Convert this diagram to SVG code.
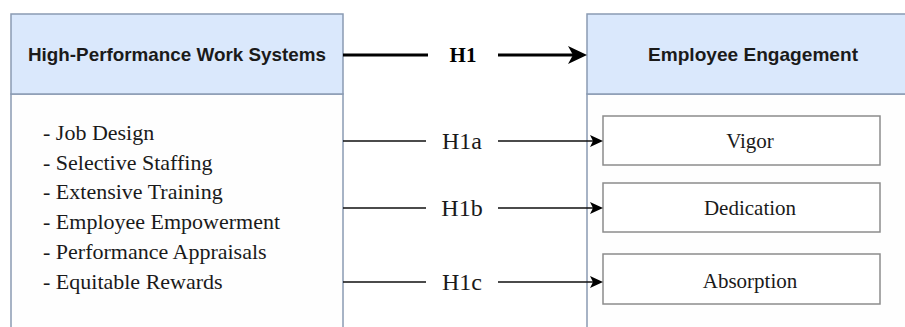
<svg xmlns="http://www.w3.org/2000/svg" width="905" height="327" viewBox="0 0 905 327">
<style>
.hdr{fill:#dae8fc;stroke:#8a9bb3;stroke-width:1.5}
.body{fill:#fefefe;stroke:#8a9bb3;stroke-width:1.5}
.sub{fill:#ffffff;stroke:#8c8c8c;stroke-width:1.5}
.ht{font-family:"Liberation Sans",Arial,sans-serif;font-weight:bold;font-size:19px;fill:#1a1a1a}
.st{font-family:"Liberation Serif","Times New Roman",serif;font-size:22px;fill:#1a1a1a}
.hl{font-family:"Liberation Serif","Times New Roman",serif;font-size:24px;fill:#1a1a1a}
.lt{font-family:"Liberation Serif","Times New Roman",serif;font-size:21px;fill:#1a1a1a}
.thick{stroke:#000;stroke-width:3;fill:none}
.thin{stroke:#111;stroke-width:1.5;fill:none}
.ah{fill:#000}
</style>
<rect width="905" height="327" fill="#ffffff"/>
<g id="hpws">
<rect class="body" x="11" y="94" width="332" height="240"/>
<rect class="hdr" x="11" y="14" width="332" height="80"/>
<text class="ht" x="177" y="61" text-anchor="middle" textLength="298" lengthAdjust="spacingAndGlyphs">High-Performance Work Systems</text>
<text class="st" x="43" y="140">- Job Design</text>
<text class="st" x="43" y="170">- Selective Staffing</text>
<text class="st" x="43" y="199">- Extensive Training</text>
<text class="st" x="43" y="229">- Employee Empowerment</text>
<text class="st" x="43" y="259">- Performance Appraisals</text>
<text class="st" x="43" y="289">- Equitable Rewards</text>
</g>
<g id="ee">
<rect class="body" x="587" y="94" width="330" height="240"/>
<rect class="hdr" x="587" y="14" width="330" height="80"/>
<text class="ht" x="753" y="61" text-anchor="middle" textLength="210" lengthAdjust="spacingAndGlyphs">Employee Engagement</text>
</g>
<g id="vigor">
<rect class="sub" x="603" y="116" width="277" height="49"/>
<text class="lt" x="750" y="148" text-anchor="middle">Vigor</text>
</g>
<g id="dedication">
<rect class="sub" x="603" y="183" width="277" height="49"/>
<text class="lt" x="750" y="215" text-anchor="middle">Dedication</text>
</g>
<g id="absorption">
<rect class="sub" x="603" y="254" width="277" height="50"/>
<text class="lt" x="750" y="288" text-anchor="middle">Absorption</text>
</g>
<g id="connectors">
<path class="thick" d="M343 55H428M498 55H574"/>
<path class="ah" d="M587 55L568 46L573 55L568 64Z"/>
<text x="463" y="62" text-anchor="middle" font-family="'Liberation Serif','Times New Roman',serif" font-weight="bold" font-size="21" fill="#000">H1</text>
<path class="thin" d="M343 141H426M498 141H594"/>
<path class="ah" d="M603 141L590 135L593 141L590 147Z"/>
<text class="hl" x="462" y="149" text-anchor="middle">H1a</text>
<path class="thin" d="M343 208H426M498 208H594"/>
<path class="ah" d="M603 208L590 202L593 208L590 214Z"/>
<text class="hl" x="462" y="216" text-anchor="middle">H1b</text>
<path class="thin" d="M343 282H426M498 282H594"/>
<path class="ah" d="M603 282L590 276L593 282L590 288Z"/>
<text class="hl" x="462" y="290" text-anchor="middle">H1c</text>
</g>
</svg>
